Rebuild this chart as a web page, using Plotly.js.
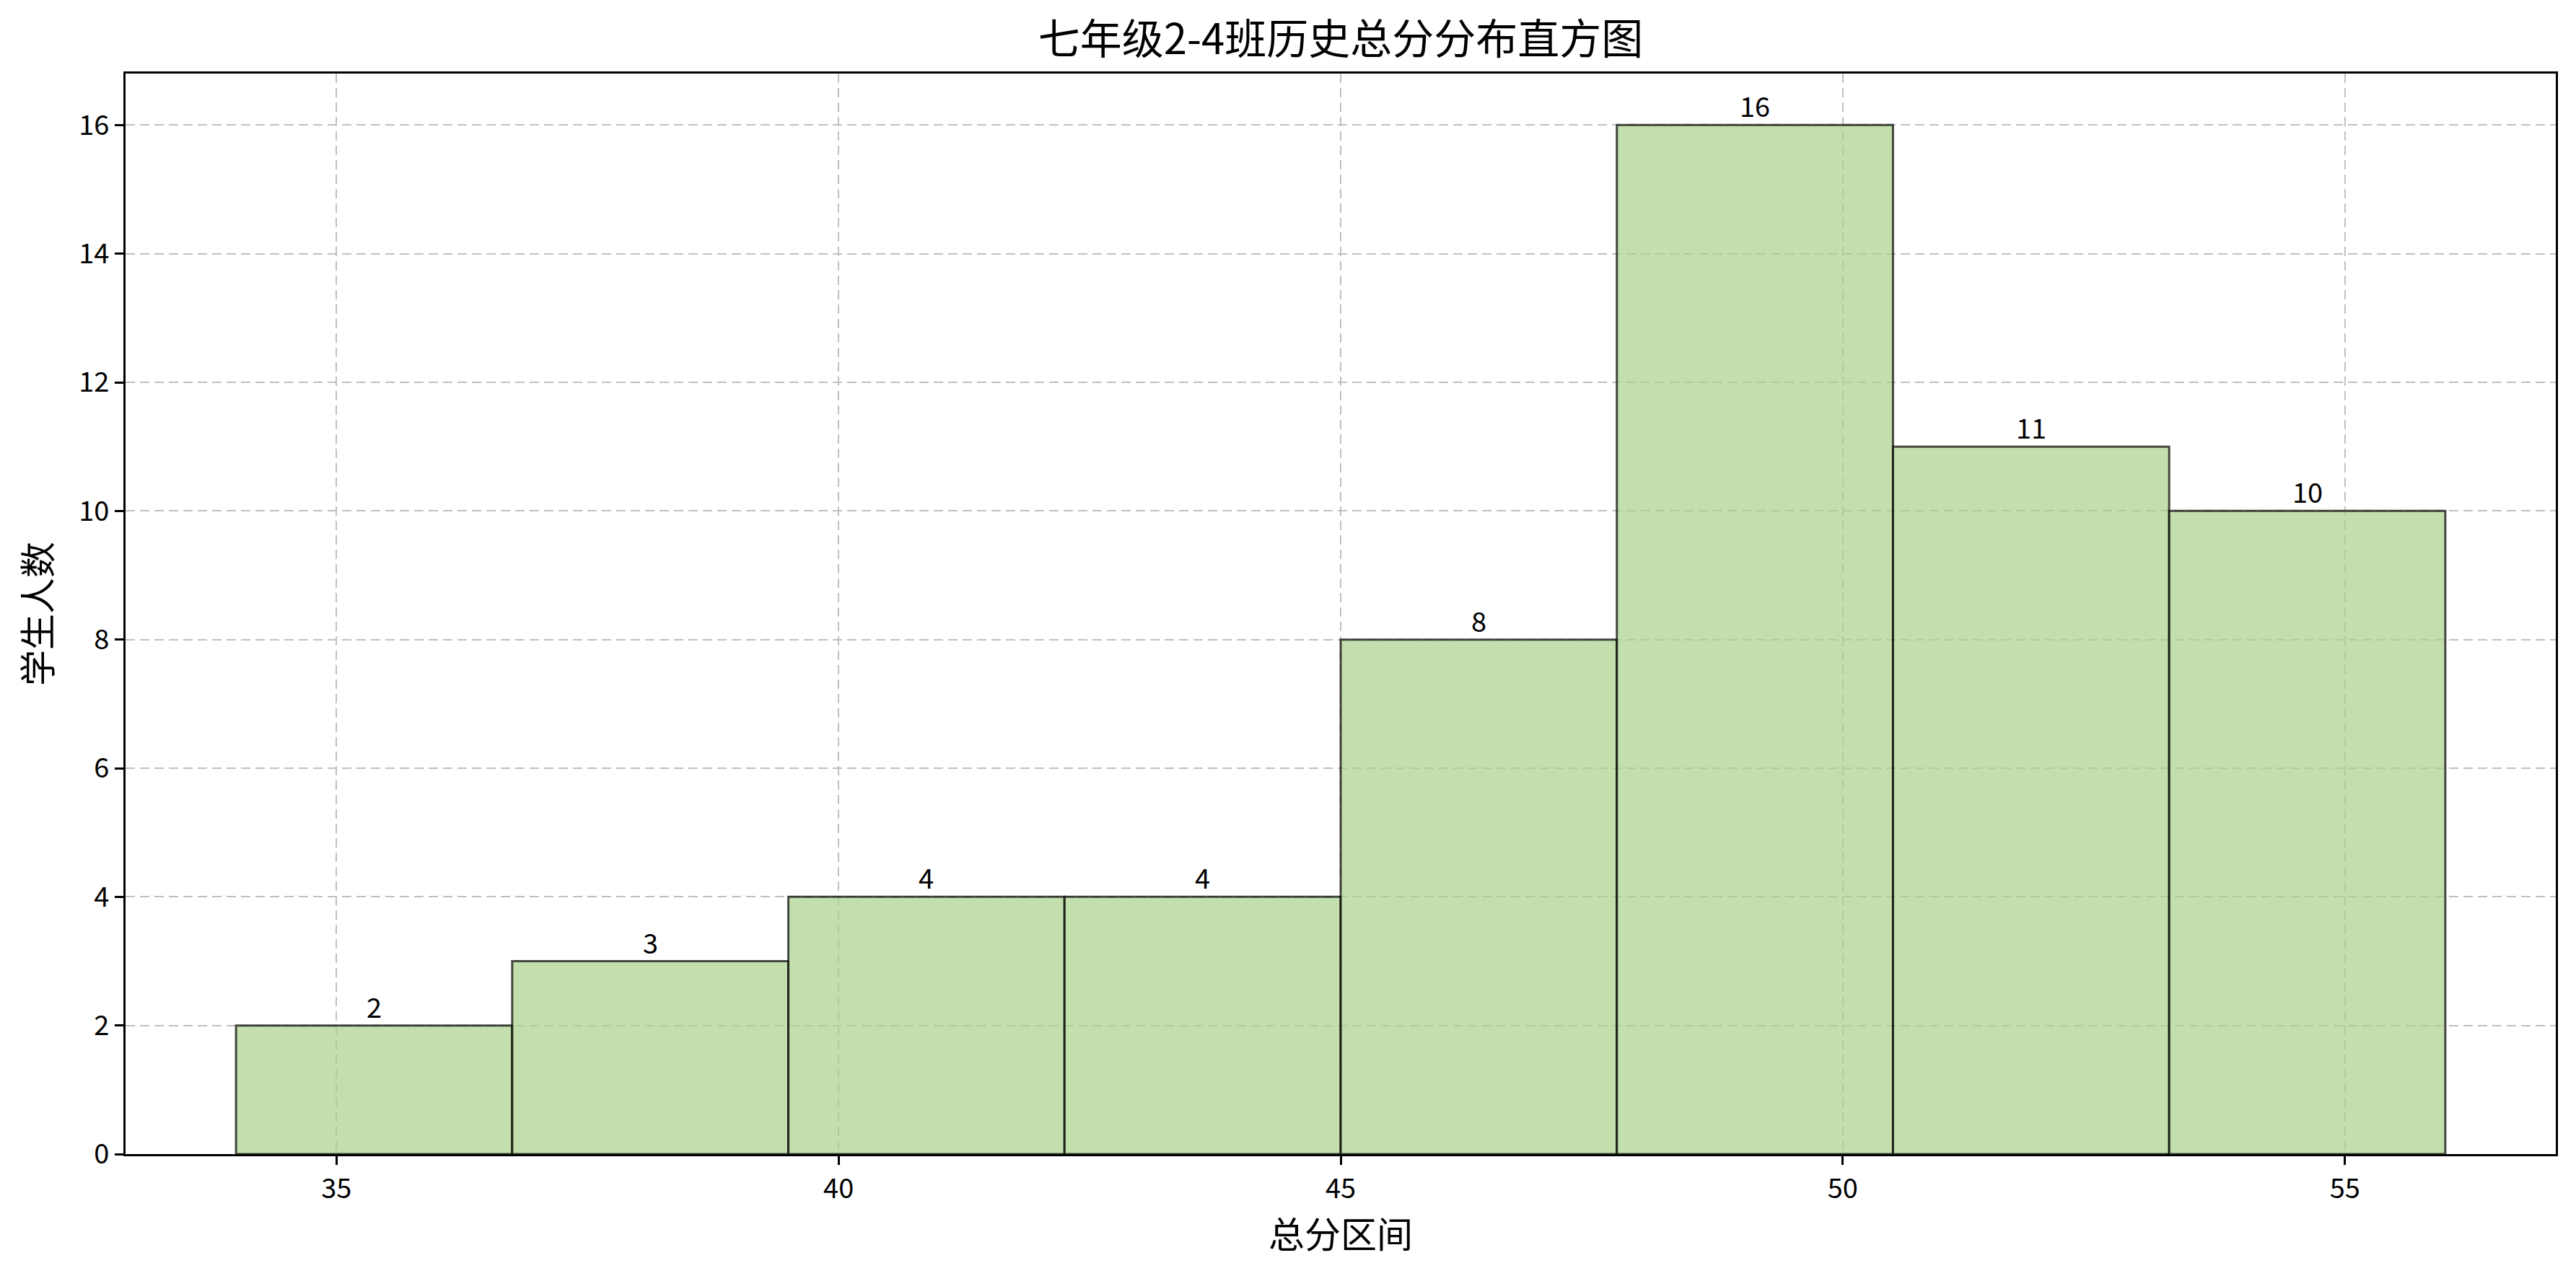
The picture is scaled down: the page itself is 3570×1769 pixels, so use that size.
<!DOCTYPE html>
<html>
<head>
<meta charset="utf-8">
<script src="https://cdn.plot.ly/plotly-3.0.1.min.js"></script>
<style>
  html, body { margin: 0; padding: 0; background: #fff; }
  #chart { width: 3570px; height: 1769px; }
</style>
</head>
<body>
<div id="chart"></div>
<script>
// histogram data: bin edges and the count in each bin
const binEdges = [34, 36.75, 39.5, 42.25, 45, 47.75, 50.5, 53.25, 56]
const counts = [2, 3, 4, 4, 8, 16, 11, 10]

const titleText = '七年级2-4班历史总分分布直方图'
const xTitle = '总分区间'
const yTitle = '学生人数'

const FONT = '"Noto Sans CJK SC", "Noto Sans", sans-serif'

let centers = [], widths = []
for (let i = 0; i < counts.length; i++) {
    centers.push((binEdges[i] + binEdges[i + 1]) / 2)
    widths.push(binEdges[i + 1] - binEdges[i])
}

// matplotlib style 5% padding around the data
let lo = binEdges[0], hi = binEdges[binEdges.length - 1]
let pad = (hi - lo) * 0.05
let ymax = Math.max(...counts) * 1.05

var data = [
    {
        type: 'bar',
        x: centers,
        y: counts,
        width: widths,
        marker: {
            color: 'rgba(171,209,139,0.7)',
            line: { color: 'rgba(0,0,0,0.7)', width: 3 },
        },
        hoverinfo: 'skip',
    },
]

// count labels sitting just above each bar
let labels = counts.map((c, i) => ({
    x: centers[i],
    y: c,
    xref: 'x',
    yref: 'y',
    text: String(c),
    showarrow: false,
    yanchor: 'bottom',
    yshift: -2,
    font: { family: FONT, size: 38, color: '#000' },
}))

var axisCommon = {
    showline: true,
    linecolor: '#000',
    linewidth: 3,
    mirror: true,
    ticks: 'outside',
    ticklen: 12,
    tickwidth: 3,
    tickcolor: '#000',
    tickfont: { family: FONT, size: 38, color: '#000' },
    showgrid: true,
    gridcolor: '#c0c0c0',
    gridwidth: 2,
    griddash: '13px,7px',
    zeroline: false,
    automargin: false,
}

var layout = {
    width: 3570,
    height: 1769,
    paper_bgcolor: '#fff',
    plot_bgcolor: '#fff',
    margin: { l: 174, r: 28, t: 102, b: 169 },
    showlegend: false,
    bargap: 0,
    annotations: labels,
    title: {
        text: titleText,
        font: { family: FONT, size: 58, color: '#000' },
        x: 0.5,
        xref: 'paper',
        xanchor: 'center',
        y: 1 - 55 / 1769,
        yref: 'container',
        yanchor: 'middle',
    },
    xaxis: Object.assign({}, axisCommon, {
        range: [lo - pad, hi + pad],
        tickmode: 'linear',
        tick0: 35,
        dtick: 5,
        title: { text: xTitle, font: { family: FONT, size: 50, color: '#000' }, standoff: 16 },
    }),
    yaxis: Object.assign({}, axisCommon, {
        range: [0, ymax],
        tickmode: 'linear',
        tick0: 0,
        dtick: 2,
        title: { text: yTitle, font: { family: FONT, size: 50, color: '#000' }, standoff: 22 },
    }),
}

Plotly.newPlot('chart', data, layout, { staticPlot: true })
</script>
</body>
</html>
